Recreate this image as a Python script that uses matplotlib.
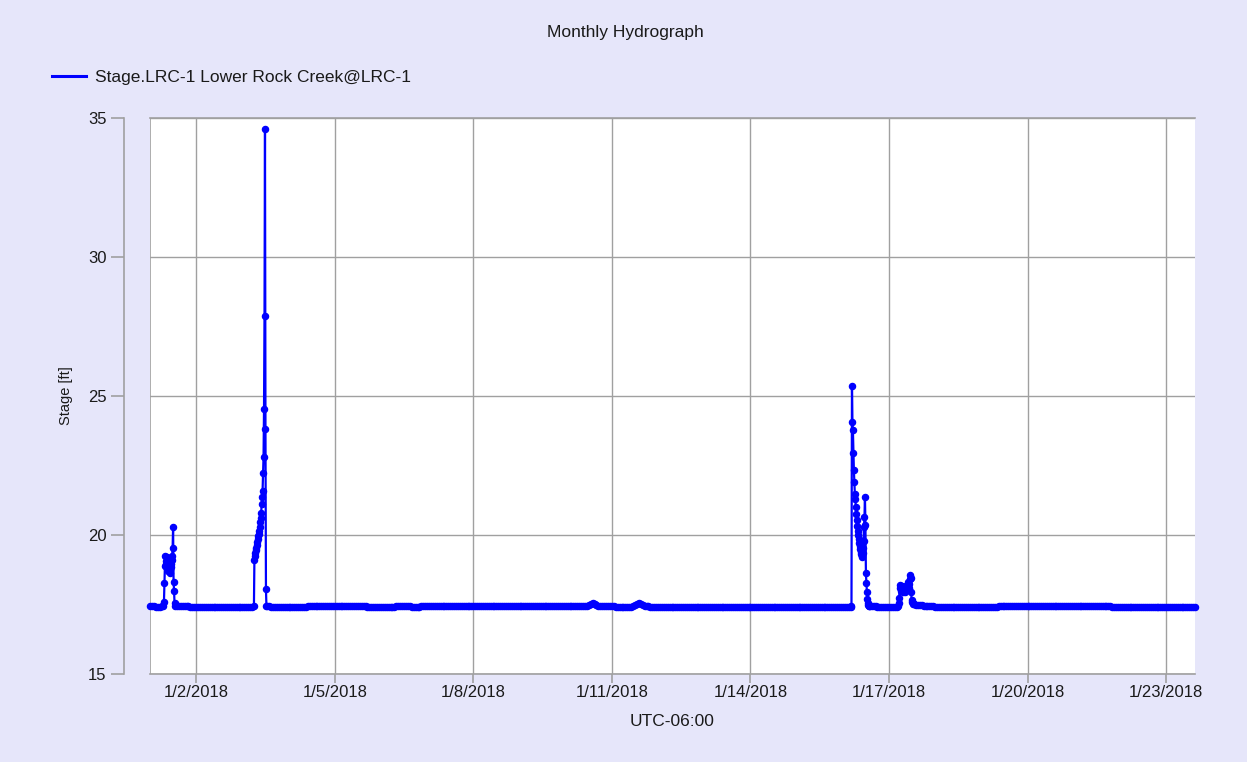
import matplotlib
matplotlib.use("Agg")
import matplotlib.pyplot as plt
import matplotlib.dates as mdates
from matplotlib.lines import Line2D
from matplotlib.ticker import FuncFormatter
import pandas as pd

# --- datos ---
titulo = "Monthly Hydrograph"
nombre_serie = "Stage.LRC-1 Lower Rock Creek@LRC-1"
etiqueta_y = "Stage [ft]"
etiqueta_x = "UTC-06:00"
ticks_y = [15, 20, 25, 30, 35]
dias_ticks = [2, 5, 8, 11, 14, 17, 20, 23]

inicio_horario = "2018-01-01 00:00"
# lecturas horarias (una fila por dia, 1/1 ... 1/23)
nivel_horario = [
    17.43, 17.43, 17.43, 17.42, 17.42, 17.42, 17.43, 17.45, 19.24, 18.80, 19.10, 18.85, 20.28, 17.46, 17.45, 17.44, 17.44, 17.43, 17.43, 17.43, 17.43, 17.42, 17.42, 17.42,
    17.42, 17.42, 17.42, 17.41, 17.41, 17.41, 17.41, 17.42, 17.42, 17.42, 17.42, 17.42, 17.41, 17.41, 17.41, 17.41, 17.41, 17.42, 17.42, 17.42, 17.42, 17.41, 17.41, 17.41,
    17.41, 17.41, 17.41, 17.41, 17.41, 17.41, 17.43, 19.45, 19.85, 20.30, 21.10, 22.82, 24.00, 17.45, 17.43, 17.42, 17.42, 17.41, 17.41, 17.41, 17.41, 17.41, 17.41, 17.41,
    17.41, 17.41, 17.41, 17.41, 17.41, 17.42, 17.42, 17.42, 17.42, 17.42, 17.43, 17.43, 17.43, 17.43, 17.43, 17.43, 17.44, 17.44, 17.44, 17.44, 17.44, 17.45, 17.45, 17.45,
    17.45, 17.45, 17.46, 17.46, 17.46, 17.46, 17.45, 17.45, 17.45, 17.44, 17.44, 17.44, 17.43, 17.43, 17.43, 17.43, 17.43, 17.42, 17.42, 17.42, 17.42, 17.42, 17.42, 17.42,
    17.42, 17.42, 17.42, 17.42, 17.42, 17.42, 17.42, 17.42, 17.43, 17.43, 17.43, 17.43, 17.43, 17.43, 17.43, 17.43, 17.42, 17.42, 17.42, 17.42, 17.42, 17.43, 17.43, 17.43,
    17.43, 17.43, 17.43, 17.43, 17.43, 17.43, 17.44, 17.44, 17.44, 17.44, 17.44, 17.44, 17.44, 17.44, 17.44, 17.44, 17.44, 17.44, 17.45, 17.45, 17.45, 17.45, 17.45, 17.45,
    17.45, 17.45, 17.46, 17.46, 17.46, 17.46, 17.46, 17.46, 17.46, 17.45, 17.45, 17.45, 17.45, 17.45, 17.45, 17.45, 17.45, 17.44, 17.44, 17.44, 17.44, 17.44, 17.44, 17.44,
    17.44, 17.44, 17.44, 17.44, 17.44, 17.44, 17.44, 17.44, 17.44, 17.43, 17.43, 17.43, 17.43, 17.43, 17.43, 17.43, 17.43, 17.43, 17.43, 17.43, 17.43, 17.43, 17.43, 17.43,
    17.43, 17.43, 17.43, 17.43, 17.43, 17.43, 17.43, 17.43, 17.43, 17.43, 17.43, 17.45, 17.48, 17.52, 17.54, 17.52, 17.48, 17.45, 17.44, 17.43, 17.43, 17.43, 17.43, 17.43,
    17.43, 17.43, 17.42, 17.42, 17.42, 17.42, 17.42, 17.42, 17.42, 17.42, 17.42, 17.45, 17.49, 17.53, 17.54, 17.51, 17.47, 17.44, 17.43, 17.43, 17.42, 17.42, 17.42, 17.42,
    17.42, 17.42, 17.42, 17.42, 17.41, 17.41, 17.41, 17.41, 17.41, 17.41, 17.41, 17.41, 17.41, 17.41, 17.41, 17.41, 17.41, 17.41, 17.41, 17.41, 17.41, 17.41, 17.41, 17.41,
    17.41, 17.41, 17.41, 17.41, 17.41, 17.41, 17.41, 17.41, 17.41, 17.41, 17.41, 17.41, 17.41, 17.41, 17.41, 17.41, 17.41, 17.41, 17.42, 17.42, 17.42, 17.42, 17.42, 17.42,
    17.42, 17.42, 17.42, 17.42, 17.42, 17.42, 17.42, 17.42, 17.42, 17.42, 17.42, 17.42, 17.42, 17.42, 17.42, 17.42, 17.42, 17.42, 17.42, 17.42, 17.42, 17.42, 17.42, 17.42,
    17.42, 17.42, 17.42, 17.42, 17.42, 17.42, 17.42, 17.42, 17.42, 17.42, 17.42, 17.42, 17.42, 17.42, 17.42, 17.42, 17.42, 17.42, 17.42, 17.42, 17.42, 17.42, 17.42, 17.42,
    17.42, 17.42, 17.42, 17.42, 17.42, 24.08, 21.92, 20.76, 20.00, 19.50, 19.22, 20.30, 18.62, 17.54, 17.44, 17.43, 17.43, 17.43, 17.42, 17.42, 17.42, 17.42, 17.42, 17.42,
    17.42, 17.42, 17.42, 17.42, 17.42, 17.54, 18.10, 18.00, 18.00, 18.05, 18.30, 18.56, 17.58, 17.51, 17.50, 17.49, 17.48, 17.47, 17.46, 17.45, 17.44, 17.43, 17.43, 17.43,
    17.42, 17.42, 17.42, 17.42, 17.42, 17.42, 17.42, 17.42, 17.42, 17.42, 17.42, 17.42, 17.42, 17.42, 17.42, 17.42, 17.42, 17.42, 17.42, 17.42, 17.42, 17.42, 17.42, 17.42,
    17.42, 17.42, 17.42, 17.42, 17.42, 17.42, 17.42, 17.42, 17.42, 17.43, 17.43, 17.43, 17.43, 17.43, 17.43, 17.43, 17.43, 17.43, 17.43, 17.43, 17.43, 17.43, 17.43, 17.43,
    17.43, 17.43, 17.43, 17.43, 17.44, 17.44, 17.44, 17.44, 17.44, 17.44, 17.44, 17.44, 17.44, 17.44, 17.44, 17.44, 17.44, 17.44, 17.44, 17.44, 17.44, 17.44, 17.44, 17.44,
    17.44, 17.44, 17.44, 17.44, 17.43, 17.43, 17.43, 17.43, 17.43, 17.43, 17.43, 17.43, 17.43, 17.43, 17.43, 17.43, 17.43, 17.43, 17.43, 17.43, 17.42, 17.42, 17.42, 17.42,
    17.42, 17.42, 17.42, 17.42, 17.42, 17.42, 17.42, 17.42, 17.42, 17.42, 17.42, 17.42, 17.42, 17.42, 17.42, 17.42, 17.42, 17.42, 17.42, 17.42, 17.42, 17.42, 17.42, 17.42,
    17.42, 17.42, 17.42, 17.42, 17.42, 17.42, 17.42, 17.42, 17.42, 17.42, 17.42, 17.42, 17.41, 17.41, 17.41, 17.41,
]

# crecidas con lecturas cada 15 minutos
tormenta1_inicio = "2018-01-01 07:00"
tormenta1 = [17.45, 17.60, 18.26, 18.90, 19.24, 19.05, 18.95, 19.20, 18.80, 19.00, 18.70, 18.90, 19.10,
             18.75, 18.65, 18.95, 18.85, 19.10, 19.25, 19.54, 20.28, 18.32, 17.99, 17.54, 17.46]

tormenta2_inicio = "2018-01-03 06:00"
tormenta2 = [17.43, 19.10, 19.25, 19.35, 19.45, 19.55, 19.65, 19.75, 19.85, 19.95, 20.05, 20.15, 20.30,
             20.45, 20.60, 20.80, 21.10, 21.35, 21.60, 22.22, 22.82, 24.55, 27.89, 34.60, 23.80, 18.05, 17.45]

tormenta3_inicio = "2018-01-16 04:30"
tormenta3 = [17.43, 25.36, 24.08, 23.76, 22.96, 22.34, 21.92, 21.47, 21.28, 21.02, 20.76, 20.54, 20.32,
             20.15, 20.00, 19.85, 19.70, 19.60, 19.50, 19.40, 19.30, 19.25, 19.22, 19.35, 19.55, 19.80,
             20.30, 20.65, 21.38, 20.35, 18.62, 18.26, 17.96, 17.69, 17.54, 17.49, 17.46, 17.45, 17.44]

tormenta4_inicio = "2018-01-17 04:45"
tormenta4 = [17.43, 17.54, 17.72, 18.08, 18.20, 18.10, 18.00, 18.05, 18.15, 18.00, 17.95, 18.05, 18.10,
             18.00, 17.95, 18.05, 18.15, 18.05, 18.10, 18.20, 18.15, 18.30, 18.10, 18.25, 18.40, 18.56,
             18.45, 17.96, 17.66, 17.58, 17.55, 17.53, 17.52, 17.51]

# armo la serie: horaria + tramos de 15 min donde hubo crecida
serie = pd.Series(nivel_horario, index=pd.date_range(inicio_horario, periods=len(nivel_horario), freq="h"))
for ini, valores in [(tormenta1_inicio, tormenta1), (tormenta2_inicio, tormenta2),
                     (tormenta3_inicio, tormenta3), (tormenta4_inicio, tormenta4)]:
    idx = pd.date_range(ini, periods=len(valores), freq="15min")
    serie = serie[(serie.index < idx[0]) | (serie.index > idx[-1])]
    serie = pd.concat([serie, pd.Series(valores, index=idx)])
serie = serie.sort_index()

# --- grafico ---
plt.rcParams['font.family'] = ['Liberation Sans', 'DejaVu Sans']
fondo = '#E6E6FA'
gris = '#A0A0A0'
azul = '#0000FF'
texto = '#1A1A1A'

fig = plt.figure(figsize=(12.47, 7.62), dpi=100, facecolor=fondo)
ax = fig.add_axes([150 / 1247, 88 / 762, 1045 / 1247, 556 / 762])
ax.set_facecolor('white')

ax.plot(serie.index, serie.values, color=azul, lw=1.6, marker='o', ms=4.4,
        mfc=azul, mec=azul, clip_on=False, zorder=3)

ax.set_xlim(serie.index[0], serie.index[-1])
ax.set_ylim(ticks_y[0], ticks_y[-1])
ax.set_yticks(ticks_y)
ax.xaxis.set_major_locator(mdates.DayLocator(bymonthday=dias_ticks))
ax.xaxis.set_major_formatter(FuncFormatter(
    lambda v, pos: "{0.month}/{0.day}/{0.year}".format(mdates.num2date(v))))

# bordes: el eje y va separado del area del grafico
ax.spines['right'].set_visible(False)
ax.spines['left'].set_position(('outward', 18.4))
for lado in ['left', 'bottom', 'top']:
    ax.spines[lado].set_color(gris)
    ax.spines[lado].set_linewidth(1.2)
ax.add_line(Line2D([0, 0], [0, 1], transform=ax.transAxes, color=gris, lw=1.2, zorder=2))

ax.grid(True, color=gris, lw=1.0, zorder=1)
ax.set_axisbelow(True)
ax.tick_params(axis='y', direction='out', length=9.4, width=1.2, color=gris, pad=3.6,
               labelsize=12, labelcolor=texto)
ax.tick_params(axis='x', direction='out', length=6.5, width=1.2, color=gris, pad=1.5,
               labelsize=12, labelcolor=texto)

fig.text(625 / 1247, 1 - 33 / 762, titulo, ha='center', va='center', fontsize=12.5, color=texto)
fig.text(672 / 1247, 1 - 722 / 762, etiqueta_x, ha='center', va='center', fontsize=12.5, color=texto)
fig.text(66 / 1247, 1 - 396 / 762, etiqueta_y, ha='center', va='center', rotation=90,
         fontsize=10.5, color=texto, family=['Liberation Sans Narrow', 'Liberation Sans', 'DejaVu Sans'])

manija = Line2D([], [], color=azul, lw=2.2)
fig.legend(handles=[manija], labels=[nombre_serie], loc='center left',
           bbox_to_anchor=(52 / 1247, 1 - 77 / 762), frameon=False, fontsize=12.5,
           handlelength=1.95, handletextpad=0.5, borderpad=0, borderaxespad=0,
           labelcolor=texto)

fig.savefig('out.png', dpi=100, facecolor=fondo)
